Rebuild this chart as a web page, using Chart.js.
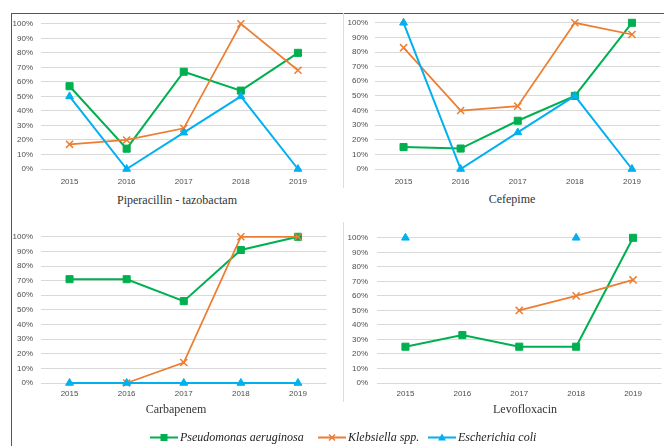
<!DOCTYPE html>
<html>
<head>
<meta charset="utf-8">
<script src="https://cdn.jsdelivr.net/npm/chart.js@4.4.0/dist/chart.umd.min.js"></script>
<style>
html, body { margin: 0; padding: 0; background: #fff; width: 664px; height: 446px; overflow: hidden; position: relative; }
.frame { position: absolute; left: 11px; top: 13px; width: 700px; height: 500px; border: 1px solid #a4343c; box-sizing: border-box; }
.vline { position: absolute; width: 1px; background: #dcdcdc; }
.box { position: absolute; }
.ttl { position: absolute; font: 12px "Liberation Serif", serif; color: #333; white-space: nowrap; transform: translate(-50%, -50%); }
.leg { position: absolute; top: 437px; font: italic 12px "Liberation Serif", serif; color: #222; white-space: nowrap; display: flex; align-items: center; transform: translateY(-50%); }
.leg svg { margin-right: 2px; }
</style>
</head>
<body>
<div class="frame"></div>
<div class="vline" style="left:343px;top:13px;height:175px"></div>
<div class="vline" style="left:343px;top:222px;height:180px"></div>
<div id="wrap"></div>

<script>
var years = ['2015', '2016', '2017', '2018', '2019'];
var seriesNames = ['Pseudomonas aeruginosa', 'Klebsiella spp.', 'Escherichia coli'];
var seriesColors = ['#00b050', '#ed7d31', '#00b0f0'];
var seriesMarkers = ['rect', 'crossRot', 'triangle'];
var panelTitles = ['Piperacillin - tazobactam', 'Cefepime', 'Carbapenem', 'Levofloxacin'];

// Piperacillin - tazobactam (%)
var pipPseudo = [57, 14, 67, 54, 80];
var pipKleb = [17, 20, 28, 100, 68];
var pipEcoli = [50, 0, 25, 50, 0];
// Cefepime (%)
var cefPseudo = [15, 14, 33, 50, 100];
var cefKleb = [83, 40, 43, 100, 92];
var cefEcoli = [100, 0, 25, 50, 0];
// Carbapenem (%)
var carPseudo = [71, 71, 56, 91, 100];
var carKleb = [null, 0, 14, 100, 100];
var carEcoli = [0, 0, 0, 0, 0];
// Levofloxacin (%)
var levPseudo = [25, 33, 25, 25, 100];
var levKleb = [null, null, 50, 60, 71];
var levEcoli = [100, null, null, 100, null];

var panelData = [
    [pipPseudo, pipKleb, pipEcoli],
    [cefPseudo, cefKleb, cefEcoli],
    [carPseudo, carKleb, carEcoli],
    [levPseudo, levKleb, levEcoli]
];

// vị trí từng khung (canvas + tiêu đề)
var panels = [
    { left: 12,  top: 11,  w: 321, h: 178, yw: 29, ypad: 8, xpad: 0,  tx: 177, ty: 200 },
    { left: 344, top: 11,  w: 323, h: 178, yw: 31, ypad: 7, xpad: 0,  tx: 512, ty: 199 },
    { left: 12,  top: 224, w: 321, h: 179, yw: 29, ypad: 8, xpad: -2, tx: 176, ty: 409 },
    { left: 344, top: 224, w: 324, h: 179, yw: 33, ypad: 9, xpad: -2, tx: 525, ty: 409 }
];

var tickFont = { family: 'Liberation Sans', size: 8 };
var wrap = document.getElementById('wrap');

panels.forEach(function (p, i) {
    var box = document.createElement('div');
    box.className = 'box';
    box.style.left = p.left + 'px';
    box.style.top = p.top + 'px';
    var cv = document.createElement('canvas');
    cv.width = p.w;
    cv.height = p.h;
    cv.style.width = p.w + 'px';
    cv.style.height = p.h + 'px';
    box.appendChild(cv);
    wrap.appendChild(box);

    var t = document.createElement('div');
    t.className = 'ttl';
    t.style.left = p.tx + 'px';
    t.style.top = p.ty + 'px';
    t.textContent = panelTitles[i];
    wrap.appendChild(t);

    var datasets = seriesNames.map(function (name, k) {
        return {
            label: name,
            data: panelData[i][k],
            borderColor: seriesColors[k],
            backgroundColor: seriesColors[k],
            borderWidth: k == 1 ? 1.75 : 2,
            pointStyle: seriesMarkers[k],
            pointRadius: k == 2 ? 4.5 : 5,
            pointBorderWidth: k == 1 ? 1.5 : 1,
            spanGaps: false,
            tension: 0,
            clip: false,
            order: 3 - k // E. coli nằm trên cùng
        };
    });

    new Chart(cv.getContext('2d'), {
        type: 'line',
        data: { labels: years, datasets: datasets },
        options: {
            responsive: false,
            animation: false,
            layout: { padding: { top: 10, left: 0, right: 0, bottom: 0 } },
            plugins: { legend: { display: false }, tooltip: { enabled: false } },
            scales: {
                x: {
                    offset: true,
                    grid: { display: false },
                    border: { display: false },
                    ticks: { padding: p.xpad, color: '#4d4d4d', font: tickFont, maxRotation: 0 },
                    afterFit: function (s) { s.height = 20; }
                },
                y: {
                    min: 0,
                    max: 100,
                    grid: { color: '#d9d9d9', drawTicks: false },
                    border: { display: false },
                    ticks: {
                        stepSize: 10,
                        padding: p.ypad,
                        color: '#4d4d4d',
                        font: tickFont,
                        callback: function (v) { return v + '%'; }
                    },
                    afterFit: function (s) { s.width = p.yw; }
                }
            }
        }
    });
});

// chú thích chung
var legendX = [150, 318, 428];
seriesNames.forEach(function (name, k) {
    var d = document.createElement('div');
    d.className = 'leg';
    d.style.left = legendX[k] + 'px';
    var c = seriesColors[k];
    var mk;
    if (k == 0) mk = '<rect x="10.5" y="1.5" width="7" height="7" fill="' + c + '"/>';
    else if (k == 1) mk = '<path d="M11 2L17 8M17 2L11 8" stroke="' + c + '" stroke-width="1.5"/>';
    else mk = '<path d="M14 1L18 8L10 8Z" fill="' + c + '"/>';
    d.innerHTML = '<svg width="28" height="10"><line x1="0" y1="5" x2="28" y2="5" stroke="' + c +
        '" stroke-width="2"/>' + mk + '</svg><span>' + name + '</span>';
    wrap.appendChild(d);
});
</script>
</body>
</html>
